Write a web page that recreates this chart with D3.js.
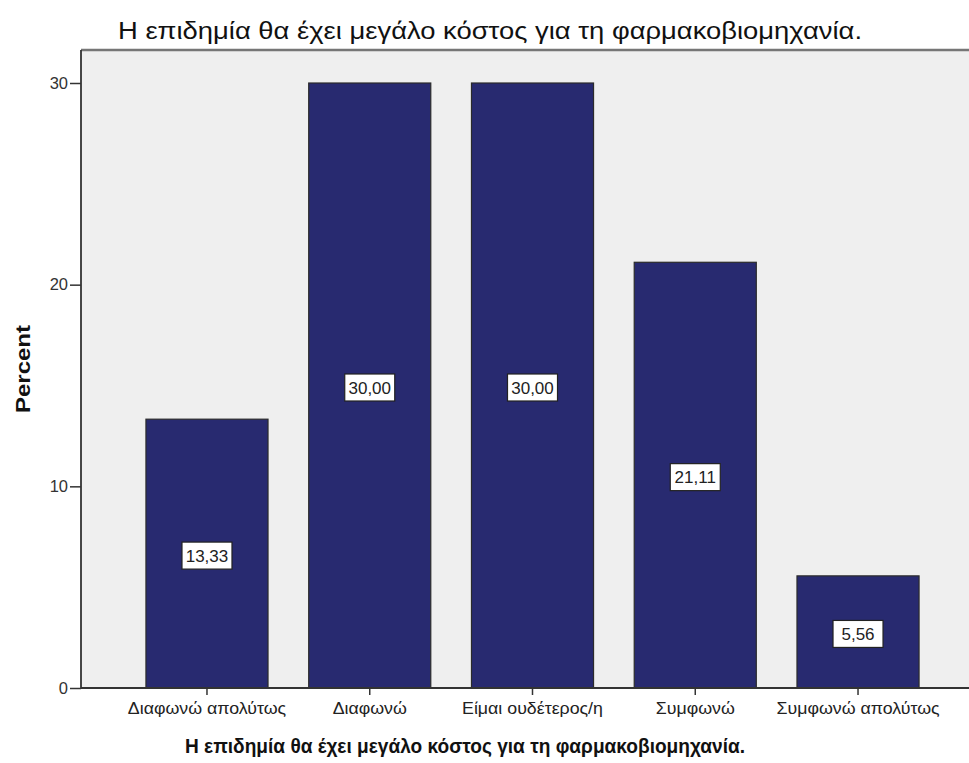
<!DOCTYPE html>
<html>
<head>
<meta charset="utf-8">
<script src="https://cdn.jsdelivr.net/npm/d3@7"></script>
<style>
  html, body { margin: 0; padding: 0; background: #fff; }
  svg { display: block; font-family: Arial, "Liberation Sans", sans-serif; }
</style>
</head>
<body>
<svg id="chart" width="969" height="763"></svg>
<script>
// Response distribution (percent) for the statement
const title = "Η επιδημία θα έχει μεγάλο κόστος για τη φαρμακοβιομηχανία.";
const categories = ["Διαφωνώ απολύτως", "Διαφωνώ", "Είμαι ουδέτερος/η", "Συμφωνώ", "Συμφωνώ απολύτως"];
const percents = [13.33, 30.00, 30.00, 21.11, 5.56];
const yTicks = [0, 10, 20, 30];
const yLabel = "Percent";

const svg = d3.select("#chart");
const plot = { left: 81, right: 969, top: 50, bottom: 688 };

// widen a text element horizontally by a factor, keeping its font size
function widen(sel, factor) {
  sel.each(function () {
    const len = this.getComputedTextLength();
    d3.select(this).attr("textLength", len * factor).attr("lengthAdjust", "spacingAndGlyphs");
  });
}

const x = d3.scaleBand()
  .domain(categories)
  .range([125.6, 939.4])
  .paddingInner(0.25)
  .paddingOuter(0.125);

const y = d3.scaleLinear().domain([0, 30]).range([688, 83]);

// plot background
svg.append("rect")
  .attr("x", plot.left).attr("y", plot.top)
  .attr("width", plot.right - plot.left).attr("height", plot.bottom - plot.top)
  .attr("fill", "#efefef");

// top frame line
svg.append("line")
  .attr("x1", plot.left).attr("x2", plot.right)
  .attr("y1", plot.top).attr("y2", plot.top)
  .attr("stroke", "#767676").attr("stroke-width", 2.5);

// bars
const rows = categories.map((c, i) => ({ c, v: percents[i] }));
svg.append("g").selectAll("rect")
  .data(rows)
  .join("rect")
  .attr("x", d => x(d.c))
  .attr("y", d => y(d.v))
  .attr("width", x.bandwidth())
  .attr("height", d => y(0) - y(d.v))
  .attr("fill", "#282a70")
  .attr("stroke", "#2b2b2b")
  .attr("stroke-width", 1.2);

// value labels
const fmt = v => v.toFixed(2).replace(".", ",");
const lab = svg.append("g").selectAll("g")
  .data(rows)
  .join("g")
  .attr("transform", d => `translate(${x(d.c) + x.bandwidth() / 2},${(y(d.v) + y(0)) / 2 + 2})`);
lab.append("rect")
  .attr("x", -25).attr("y", -13.5)
  .attr("width", 50).attr("height", 27)
  .attr("fill", "#fff")
  .attr("stroke", "#222").attr("stroke-width", 1.2);
lab.append("text")
  .attr("text-anchor", "middle")
  .attr("dy", "0.36em")
  .attr("font-size", 17)
  .attr("fill", "#222")
  .text(d => fmt(d.v));

// y axis
const yAxis = svg.append("g")
  .attr("transform", `translate(${plot.left},0)`)
  .call(d3.axisLeft(y).tickValues(yTicks).tickSize(11).tickPadding(2).tickFormat(d3.format("d")));
yAxis.select(".domain").remove();
yAxis.selectAll(".tick line").attr("stroke", "#333").attr("stroke-width", 1.5);
yAxis.selectAll(".tick text").attr("font-size", 16.5).attr("fill", "#333").attr("font-family", "Arial, 'Liberation Sans', sans-serif");
svg.append("line")
  .attr("x1", plot.left).attr("x2", plot.left)
  .attr("y1", plot.top).attr("y2", plot.bottom)
  .attr("stroke", "#333").attr("stroke-width", 1.8);

// x axis
const xAxis = svg.append("g")
  .attr("transform", `translate(0,${plot.bottom})`)
  .call(d3.axisBottom(x).tickSize(7).tickPadding(8));
xAxis.select(".domain").remove();
xAxis.selectAll(".tick line").attr("stroke", "#333").attr("stroke-width", 1.5);
xAxis.selectAll(".tick text").attr("font-size", 16).attr("fill", "#222").attr("font-family", "Arial, 'Liberation Sans', sans-serif");
widen(xAxis.selectAll(".tick text"), 1.11);
svg.append("line")
  .attr("x1", plot.left).attr("x2", plot.right)
  .attr("y1", plot.bottom).attr("y2", plot.bottom)
  .attr("stroke", "#333").attr("stroke-width", 1.8);

// titles
svg.append("text")
  .attr("x", 490).attr("y", 39)
  .attr("text-anchor", "middle")
  .attr("font-size", 23)
  .attr("fill", "#111")
  .attr("textLength", 744).attr("lengthAdjust", "spacingAndGlyphs")
  .text(title);

svg.append("text")
  .attr("x", 465).attr("y", 753)
  .attr("text-anchor", "middle")
  .attr("font-size", 19.5)
  .attr("font-weight", "bold")
  .attr("fill", "#111")
  .attr("textLength", 560).attr("lengthAdjust", "spacingAndGlyphs")
  .text(title);

svg.append("text")
  .attr("transform", "translate(30,369) rotate(-90)")
  .attr("text-anchor", "middle")
  .attr("font-size", 20)
  .attr("font-weight", "bold")
  .attr("fill", "#111")
  .attr("textLength", 88).attr("lengthAdjust", "spacingAndGlyphs")
  .text(yLabel);
</script>
</body>
</html>
